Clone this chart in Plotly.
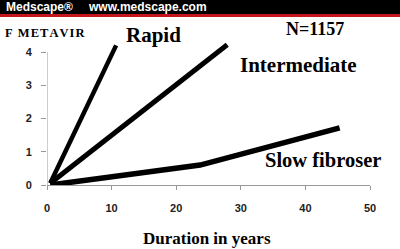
import plotly.graph_objects as go

# Data
rapid_x = [0.5, 10.7]
rapid_y = [0.05, 4.2]
inter_x = [0.5, 27.9]
inter_y = [0.05, 4.22]
slow_x = [0.5, 23.7, 45.3]
slow_y = [0.0, 0.6, 1.72]
x_ticks = [0, 10, 20, 30, 40, 50]
y_ticks = [0, 1, 2, 3, 4]

fig = go.Figure()
for xs, ys, w in [(rapid_x, rapid_y, 4.5), (inter_x, inter_y, 5), (slow_x, slow_y, 5.5)]:
    fig.add_trace(go.Scatter(x=xs, y=ys, mode="lines",
                             line=dict(color="black", width=w),
                             cliponaxis=False, showlegend=False, hoverinfo="skip"))

serif = "Liberation Serif, Times New Roman, serif"
sans = "Liberation Sans, Arial, sans-serif"

# plot area: x 47..370 px, y-value 0 at 185 px, 4 at 52 px
T, B = 40, 64
ph = 249 - T - B
ytop = ph * 4 / 133

fig.update_layout(
    width=400, height=249,
    margin=dict(l=47, r=30, t=T, b=B),
    paper_bgcolor="white", plot_bgcolor="white",
    xaxis=dict(range=[0, 50], tickvals=x_ticks, showgrid=False, zeroline=False,
               showline=True, linecolor="#999", linewidth=1,
               ticks="outside", ticklen=4, tickcolor="#999", ticklabelstandoff=9,
               tickfont=dict(family=sans, size=11, color="#222", weight="bold")),
    yaxis=dict(range=[0, ytop], tickvals=y_ticks, showgrid=False, zeroline=False,
               showline=False,
               ticks="outside", ticklen=5, tickcolor="#999", ticklabelstandoff=7,
               tickfont=dict(family=sans, size=11, color="#222", weight="bold")),
)

def px_to_paper(px, py):
    return (px - 47) / 323, (249 - B - py) / ph

x0, y_top = px_to_paper(0, 0)
x1, y_bot = px_to_paper(400, 14)
_, y_red = px_to_paper(0, 17)
fig.layout.shapes = [
    dict(type="line", xref="x", yref="y", x0=0, x1=0, y0=0, y1=4,
         line=dict(color="#999", width=1)),
    dict(type="rect", xref="paper", yref="paper", x0=x0, x1=x1, y0=y_bot, y1=y_top,
         fillcolor="black", line=dict(width=0), layer="above"),
    dict(type="rect", xref="paper", yref="paper", x0=x0, x1=x1, y0=y_red, y1=y_bot,
         fillcolor="#c4161c", line=dict(width=0), layer="above"),
]

def label(text, px, py, size, family=serif, color="black", anchor="left"):
    x, y = px_to_paper(px, py)
    fig.add_annotation(text=text, x=x, y=y, xref="paper", yref="paper",
                       xanchor=anchor, yanchor="middle", showarrow=False,
                       font=dict(family=family, size=size, color=color, weight="bold"))

hs = "\u200a"
label("Medscape®", 4, 7, 12, family=sans, color="white")
label("www.medscape.com", 86, 7, 12, family=sans, color="white")
label(hs.join("F METAVIR"), 3, 33, 12.5)
label("Rapid", 124, 35, 21)
label("N=1157", 284, 29, 18)
label("Intermediate", 238, 65, 21)
label("Slow fibroser", 263, 160, 20.5)
label("Duration in years", 207, 238, 17, anchor="center")

fig.write_html("out.html")
